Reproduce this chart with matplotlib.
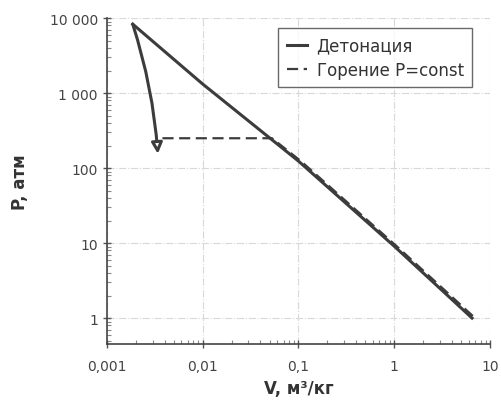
import matplotlib.pyplot as plt
from matplotlib.ticker import FixedLocator, FixedFormatter, LogLocator, NullFormatter

# ==================== данные ====================
det_v = [0.00186, 0.01, 0.1, 1.0, 6.5]
det_p = [8300, 1320, 124, 9.1, 1.0]

burn_v = [0.0038, 0.053, 0.106, 1.06, 7.0]
burn_p = [250, 250, 124, 9.1, 1.0]

arrow_start = (0.00186, 8300)
arrow_end = (0.0034, 155)

x_ticks = [0.001, 0.01, 0.1, 1, 10]
x_labels = ['0,001', '0,01', '0,1', '1', '10']
y_ticks = [1, 10, 100, 1000, 10000]
y_labels = ['1', '10', '100', '1 000', '10 000']

line_color = '#3c3c3c'

# ==================== график ====================
fig = plt.figure(figsize=(5.02, 4.06), dpi=100)
ax = fig.add_axes([0.213, 0.15, 0.763, 0.803])

ax.plot(det_v, det_p, color=line_color, lw=2.2, label='Детонация')
ax.plot(burn_v, burn_p, color=line_color, lw=1.6, ls=(0, (5, 2.5)),
        label='Горение P=const')

ax.annotate('', xy=arrow_end, xytext=arrow_start,
            arrowprops=dict(arrowstyle='-|>', connectionstyle='arc3,rad=-0.06',
                            lw=2.2, color=line_color, fc='white',
                            mutation_scale=16, shrinkA=0, shrinkB=0))

ax.set_xscale('log')
ax.set_yscale('log')
ax.set_xlim(0.001, 10)
ax.set_ylim(0.45, 10000)

ax.xaxis.set_major_locator(FixedLocator(x_ticks))
ax.xaxis.set_major_formatter(FixedFormatter(x_labels))
ax.yaxis.set_major_locator(FixedLocator(y_ticks))
ax.yaxis.set_major_formatter(FixedFormatter(y_labels))
ax.xaxis.set_minor_locator(LogLocator(base=10, subs=range(2, 10)))
ax.yaxis.set_minor_locator(LogLocator(base=10, subs=range(2, 10)))
ax.xaxis.set_minor_formatter(NullFormatter())
ax.yaxis.set_minor_formatter(NullFormatter())

ax.tick_params(which='major', direction='inout', length=6, width=1,
               labelsize=10, labelcolor='#444444', color='#555555')
ax.tick_params(which='minor', direction='in', length=3, width=0.8,
               color='#888888')
ax.tick_params(axis='x', pad=8)

for side in ['top', 'right']:
    ax.spines[side].set_visible(False)
for side in ['left', 'bottom']:
    ax.spines[side].set_color('#444444')
    ax.spines[side].set_linewidth(1.2)

ax.grid(which='major', color='#d8d8d8', ls='-.', lw=0.8)

ax.set_xlabel('V, м³/кг', fontsize=12, fontweight='bold', color='#333333',
              labelpad=4)
ax.set_ylabel('P, атм', fontsize=12, fontweight='bold', color='#333333',
              labelpad=15)

leg = ax.legend(loc='upper right', bbox_to_anchor=(0.975, 0.995), fontsize=12,
                frameon=True, fancybox=False, handlelength=1.2,
                handletextpad=0.6, borderpad=0.5, labelspacing=0.4)
leg.get_frame().set_edgecolor('#444444')
leg.get_frame().set_linewidth(1.0)
for t in leg.get_texts():
    t.set_color('#333333')

fig.savefig('out.png', dpi=100)
